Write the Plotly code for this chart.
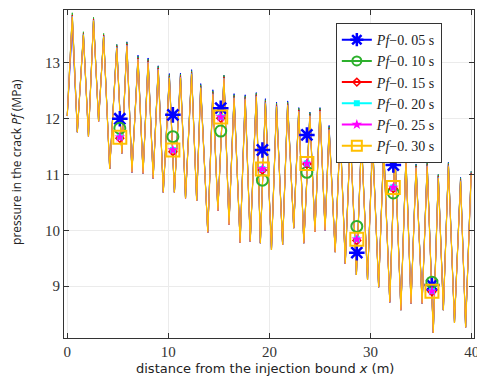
import plotly.graph_objects as go

# ---- data ----
start_x = 0.0
start_y = 12.05

peak_x = [0.5, 1.6, 2.6, 3.6, 4.9, 5.9, 7.0, 8.0, 9.0, 10.1, 11.2, 12.3, 13.2, 14.4, 15.5, 16.5,
          17.6, 18.7, 19.6, 20.7, 21.8, 22.9, 24.0, 25.0, 25.9, 27.0, 28.0, 29.1, 30.2, 31.3,
          32.4, 33.5, 34.5, 35.6, 36.7, 37.7, 38.9, 39.95]
trough_x = [1.0, 2.1, 3.1, 4.2, 5.4, 6.4, 7.5, 8.5, 9.5, 10.6, 11.7, 12.8, 13.9, 14.9, 16.0, 17.1,
            18.1, 19.1, 20.2, 21.3, 22.4, 23.4, 24.5, 25.5, 26.5, 27.5, 28.6, 29.7, 30.8, 31.9,
            33.0, 34.0, 35.1, 36.2, 37.2, 38.3, 39.4]
trough_y = [11.76, 11.68, 11.95, 11.10, 11.38, 11.04, 11.02, 10.93, 10.68, 10.68, 10.57, 10.53,
            9.96, 10.35, 10.10, 9.78, 9.80, 9.77, 9.65, 9.74, 10.04, 9.77, 9.97, 10.00, 9.61,
            9.40, 9.20, 9.11, 8.98, 8.71, 8.57, 8.69, 8.69, 8.16, 8.57, 8.34, 8.26]

peak_y_005 = [13.62, 13.50, 13.80, 13.50, 13.33, 13.38, 13.14, 13.09, 12.95, 12.81, 12.82, 12.88,
              12.63, 12.52, 12.78, 12.45, 12.43, 12.47, 12.36, 12.30, 12.32, 12.20, 12.12, 12.20,
              11.88, 11.82, 11.74, 11.67, 11.62, 11.52, 11.47, 11.33, 11.19, 11.22, 11.00, 11.22,
              10.95, 11.06]
peak_y_010 = [13.90, 13.56, 13.82, 13.53, 13.33, 13.37, 13.12, 13.07, 12.94, 12.79, 12.80, 12.86,
              12.61, 12.50, 12.78, 12.43, 12.41, 12.46, 12.34, 12.28, 12.30, 12.19, 12.11, 12.19,
              11.86, 11.81, 11.73, 11.66, 11.61, 11.51, 11.46, 11.32, 11.18, 11.21, 11.00, 11.21,
              10.94, 11.06]
peak_y_015 = [13.86, 13.53, 13.79, 13.50, 13.30, 13.34, 13.09, 13.04, 12.91, 12.76, 12.77, 12.83,
              12.58, 12.47, 12.75, 12.40, 12.38, 12.43, 12.31, 12.25, 12.27, 12.16, 12.08, 12.16,
              11.83, 11.78, 11.70, 11.63, 11.58, 11.48, 11.43, 11.29, 11.15, 11.18, 10.97, 11.18,
              10.91, 11.03]
peak_y_020 = [13.84, 13.51, 13.77, 13.48, 13.28, 13.32, 13.07, 13.02, 12.89, 12.74, 12.75, 12.81,
              12.56, 12.45, 12.73, 12.38, 12.36, 12.41, 12.29, 12.23, 12.25, 12.14, 12.06, 12.14,
              11.81, 11.76, 11.68, 11.61, 11.56, 11.46, 11.41, 11.27, 11.13, 11.16, 10.95, 11.16,
              10.89, 11.01]
peak_y_025 = [13.83, 13.50, 13.76, 13.47, 13.27, 13.31, 13.06, 13.01, 12.88, 12.73, 12.74, 12.80,
              12.55, 12.44, 12.72, 12.37, 12.35, 12.40, 12.28, 12.22, 12.24, 12.13, 12.05, 12.13,
              11.80, 11.75, 11.67, 11.60, 11.55, 11.45, 11.40, 11.26, 11.12, 11.15, 10.94, 11.15,
              10.88, 11.00]
peak_y_030 = [13.83, 13.50, 13.76, 13.47, 13.27, 13.31, 13.06, 13.01, 12.88, 12.73, 12.74, 12.80,
              12.55, 12.44, 12.72, 12.37, 12.35, 12.40, 12.28, 12.22, 12.24, 12.13, 12.05, 12.13,
              11.80, 11.75, 11.67, 11.60, 11.55, 11.45, 11.40, 11.26, 11.12, 11.15, 10.94, 11.15,
              10.88, 11.00]

marker_x = [5.2, 10.45, 15.18, 19.3, 23.7, 28.64, 32.25, 36.07]
marker_y_005 = [12.00, 12.07, 12.19, 11.44, 11.71, 9.60, 11.17, 9.02]
marker_y_010 = [11.83, 11.68, 11.78, 10.90, 11.04, 10.07, 10.67, 9.07]
marker_y_015 = [11.65, 11.41, 12.01, 11.08, 11.19, 9.82, 10.75, 8.90]
marker_y_020 = [11.67, 11.44, 12.03, 11.10, 11.20, 9.84, 10.77, 8.91]
marker_y_025 = [11.67, 11.44, 12.03, 11.10, 11.20, 9.84, 10.77, 8.91]
marker_y_030 = [11.67, 11.44, 12.03, 11.10, 11.20, 9.84, 10.77, 8.91]

series_names = ["0. 05", "0. 10", "0. 15", "0. 20", "0. 25", "0. 30"]
x_ticks = [0, 10, 20, 30, 40]
y_ticks = [9, 10, 11, 12, 13]

# ---- styling ----
colors = ["#0000FF", "#2DB02D", "#FF0000", "#00FFFF", "#FF00FF", "#FFBF00"]
symbols = ["asterisk-open", "circle-open", "diamond-open", "square", "star", "square-open"]
msizes = [13, 11, 6, 6, 8, 13]
leg_sizes = [11, 9, 6, 6, 8, 10]
mlines = [2.5, 2, 1.5, 0, 0, 2]
lwidths = [1.0, 1.0, 1.0, 1.0, 1.0, 1.2]

peaks_all = [peak_y_005, peak_y_010, peak_y_015, peak_y_020, peak_y_025, peak_y_030]
markers_all = [marker_y_005, marker_y_010, marker_y_015, marker_y_020, marker_y_025, marker_y_030]


def build_line(pk_y):
    xs, ys = [start_x], [start_y]
    for i in range(len(peak_x)):
        xs.append(peak_x[i]); ys.append(pk_y[i])
        if i < len(trough_x):
            xs.append(trough_x[i]); ys.append(trough_y[i])
    return xs, ys


fig = go.Figure()
for i in range(6):
    xs, ys = build_line(peaks_all[i])
    fig.add_trace(go.Scatter(x=xs, y=ys, mode="lines", showlegend=False,
                             line=dict(color=colors[i], width=lwidths[i]), hoverinfo="skip"))

for i in range(6):
    fig.add_trace(go.Scatter(
        x=marker_x, y=markers_all[i], mode="markers", showlegend=False,
        marker=dict(symbol=symbols[i], size=msizes[i], color=colors[i],
                    line=dict(color=colors[i], width=mlines[i]))))

for i in range(6):
    fig.add_trace(go.Scatter(
        x=[None], y=[None], mode="lines+markers",
        name="<i>Pf</i>\u2212" + series_names[i] + " s",
        line=dict(color=colors[i], width=2),
        marker=dict(symbol=symbols[i], size=leg_sizes[i],
                    color=colors[i], line=dict(color=colors[i], width=mlines[i]))))

axis_common = dict(showline=True, linecolor="#333333", linewidth=1, mirror="ticks",
                   ticks="inside", ticklen=5, tickcolor="#333333", showgrid=True,
                   gridcolor="#ebebeb", zeroline=False, automargin=False,
                   ticklabeloverflow="allow",
                   tickfont=dict(family="Liberation Serif", size=15, color="#333333"))

fig.update_layout(
    width=477, height=380,
    margin=dict(l=64, r=3, t=10, b=42),
    paper_bgcolor="white", plot_bgcolor="white",
    xaxis=dict(range=[-0.32, 40.23], tickvals=x_ticks, **axis_common),
    yaxis=dict(range=[8.07, 13.95], tickvals=y_ticks, **axis_common),
    legend=dict(x=0.663, y=0.96, xanchor="left", yanchor="top",
                bgcolor="white", bordercolor="#333333", borderwidth=1,
                font=dict(family="Liberation Serif", size=14, color="#222222"),
                itemwidth=30, tracegroupgap=0),
    annotations=[
        dict(text="distance from the injection bound <i>x</i> (m)", xref="paper", yref="paper",
             x=0.491, y=-0.0915, xanchor="center", yanchor="middle", showarrow=False,
             font=dict(family="DejaVu Sans", size=13, color="#222222")),
        dict(text="pressure in the crack <i>Pf</i> (MPa)", xref="paper", yref="paper",
             x=-0.1146, y=0.537, xanchor="center", yanchor="middle", showarrow=False,
             textangle=-90, font=dict(family="Open Sans", size=12, color="#222222")),
    ],
)

fig.write_html("out.html", config={"displayModeBar": False},
               post_script="document.body.style.margin='0px';")
